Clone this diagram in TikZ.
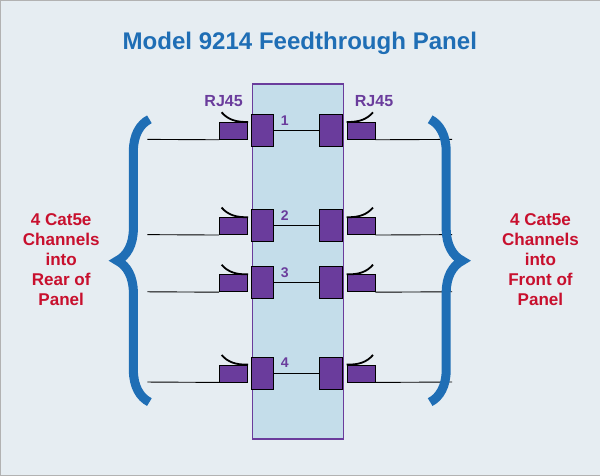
\documentclass[tikz,border=0pt]{standalone}
\usepackage{fontspec}
\setmainfont{Liberation Sans}
\usetikzlibrary{decorations.pathreplacing}
\definecolor{panelblue}{HTML}{C4DDEA}
\definecolor{bgblue}{HTML}{E6EDF2}
\definecolor{titleblue}{HTML}{1F6EB5}
\definecolor{jackpurple}{HTML}{6A3C9C}
\definecolor{labelred}{HTML}{C8102E}
\begin{document}
\begin{tikzpicture}[x=1pt,y=-1pt]
    \tikzstyle{jack}=[draw=black,fill=jackpurple,line width=0.8pt,minimum width=22pt,minimum height=32pt,inner sep=0pt]
    \tikzstyle{plug}=[draw=black,fill=jackpurple,line width=0.8pt,minimum width=28pt,minimum height=17pt,inner sep=0pt]
    \tikzstyle{cable}=[line width=0.9pt]
    \tikzstyle{bracket}=[draw=titleblue,line width=9pt,decorate,decoration={brace,amplitude=32pt,aspect=0.5}]
    \tikzstyle{side}=[text=labelred,font=\bfseries\fontsize{17}{20}\selectfont,align=center]
    \node[draw=gray!60,fill=bgblue,minimum width=598pt,minimum height=474pt,anchor=north west] (bg) at (1,1) {};
    \node[font=\bfseries\fontsize{24}{28}\selectfont,text=titleblue] (title) at (300,44) {Model 9214 Feedthrough Panel};
    \node[draw=jackpurple,fill=panelblue,line width=1.5pt,minimum width=91pt,minimum height=354pt,anchor=north west,inner sep=0pt] (panel) at (252,84) {};
    \node[font=\bfseries\fontsize{16}{18}\selectfont,text=jackpurple] (rjl) at (224,102) {RJ45};
    \node[font=\bfseries\fontsize{16}{18}\selectfont,text=jackpurple] (rjr) at (374,102) {RJ45};
    \foreach \n/\y in {1/140,2/235,3/292,4/382}{
        \node[jack] (jl\n) at (263,\y-9) {};
        \node[jack] (jr\n) at (331,\y-9) {};
        \node[plug] (pl\n) at (234,\y-8.5) {};
        \node[plug] (pr\n) at (361,\y-8.5) {};
        \node[font=\bfseries\fontsize{14}{16}\selectfont,text=jackpurple] (num\n) at (285,\y-19) {\n};
        \draw[cable] (jl\n.east) -- (jr\n.west);
        \coordinate (el\n) at (148,\y);
        \coordinate (er\n) at (452,\y);
        \draw[cable] (el\n) -- (pl\n.south west);
        \draw[cable] (pr\n.south east) -- (er\n);
        \draw[line width=1.8pt] (pl\n.north east) .. controls (236,\y-17) and (228,\y-20) .. (222,\y-27);
        \draw[line width=1.8pt] (pr\n.north west) .. controls (359,\y-17) and (367,\y-20) .. (373,\y-27);
    }
    \coordinate (bl1) at (150,402);
    \coordinate (bl2) at (150,120);
    \coordinate (br1) at (430,120);
    \coordinate (br2) at (430,402);
    \draw[bracket] (bl1) -- (bl2);
    \draw[bracket] (br1) -- (br2);
    \node[side] (rear) at (62,260) {4 Cat5e\\Channels\\into\\Rear of\\Panel};
    \node[side] (front) at (540,260) {4 Cat5e\\Channels\\into\\Front of\\Panel};
\end{tikzpicture}
\end{document}
